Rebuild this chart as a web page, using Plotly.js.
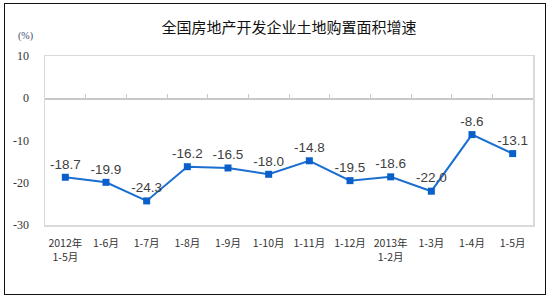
<!DOCTYPE html>
<html>
<head>
<meta charset="utf-8">
<script src="https://cdn.plot.ly/plotly-3.0.1.min.js"></script>
<style>
  html, body { margin:0; padding:0; background:#fff; }
  #wrap { position:relative; width:550px; height:299px; }
  #chart { width:550px; height:299px; }
  #frame { position:absolute; left:4px; top:3px; width:540px; height:290px;
           border:1.5px solid #111; pointer-events:none; }
</style>
</head>
<body>
<div id="wrap">
  <div id="chart"></div>
  <div id="frame"></div>
</div>
<script>
const categories = ["2012年<br>1-5月", "1-6月", "1-7月", "1-8月", "1-9月", "1-10月",
                    "1-11月", "1-12月", "2013年<br>1-2月", "1-3月", "1-4月", "1-5月"];
const growth = [-18.7, -19.9, -24.3, -16.2, -16.5, -18.0, -14.8, -19.5, -18.6, -22.0, -8.6, -13.1];
const yTicks = [10, 0, -10, -20, -30];
const titleText = "全国房地产开发企业土地购置面积增速";
const unitText = "(%)";

const boundaries = categories.slice(0, -1).map((_, i) => i + 0.5);

const traces = [
  {
    x: categories.map((_, i) => i),
    y: growth,
    type: "scatter",
    mode: "lines+markers+text",
    text: growth.map(v => v.toFixed(1)),
    textposition: "top center",
    textfont: { family: "Liberation Sans, Arial, sans-serif", size: 13.5, color: "#404040" },
    line: { color: "#1a6fd0", width: 2 },
    marker: { symbol: "square", size: 7, color: "#0a5fc8" },
    hoverinfo: "skip",
    cliponaxis: false
  },
  {
    x: categories.map((_, i) => i),
    y: growth,
    xaxis: "x2",
    type: "scatter",
    mode: "markers",
    marker: { opacity: 0 },
    hoverinfo: "skip",
    showlegend: false
  }
];

const layout = {
  width: 550,
  height: 299,
  margin: { l: 45, r: 17, t: 56, b: 74 },
  paper_bgcolor: "#fff",
  plot_bgcolor: "#fff",
  showlegend: false,
  title: {
    text: titleText,
    x: 0.5, xref: "paper", xanchor: "center",
    y: 22, yref: "container", yanchor: "middle",
    font: { family: "Noto Sans CJK SC, sans-serif", size: 15, color: "#111" }
  },
  xaxis: {
    range: [-0.5, 11.5],
    tickmode: "array",
    tickvals: categories.map((_, i) => i),
    ticktext: categories,
    showgrid: false,
    zeroline: false,
    showline: true,
    mirror: true,
    linecolor: "#d9d9d9",
    linewidth: 1.5,
    ticks: "",
    ticklabelstandoff: 8,
    tickfont: { family: "Noto Sans CJK SC, sans-serif", size: 10.5, color: "#333" }
  },
  xaxis2: {
    overlaying: "x",
    anchor: "free",
    position: 0.75,
    side: "top",
    range: [-0.5, 11.5],
    tickmode: "array",
    tickvals: boundaries,
    ticks: "outside",
    ticklen: 4,
    tickcolor: "#c8c8c8",
    tickwidth: 1,
    showticklabels: false,
    showgrid: false,
    zeroline: false,
    showline: true,
    linecolor: "#c8c8c8",
    linewidth: 1.5
  },
  yaxis: {
    range: [-30, 10],
    tickmode: "array",
    tickvals: yTicks,
    ticktext: yTicks.map(String),
    showgrid: false,
    zeroline: false,
    showline: true,
    mirror: true,
    linecolor: "#d9d9d9",
    linewidth: 1.5,
    ticks: "",
    ticklabelstandoff: 12,
    tickfont: { family: "Liberation Serif, serif", size: 12, color: "#333" }
  },
  annotations: [
    {
      text: unitText,
      xref: "paper", yref: "paper",
      x: -0.04, y: 1.0, xanchor: "center", yanchor: "bottom",
      yshift: 12,
      showarrow: false,
      font: { family: "Liberation Serif, serif", size: 10, color: "#3a4a70" }
    }
  ]
};

Plotly.newPlot("chart", traces, layout, { displayModeBar: false, staticPlot: true });
</script>
</body>
</html>
